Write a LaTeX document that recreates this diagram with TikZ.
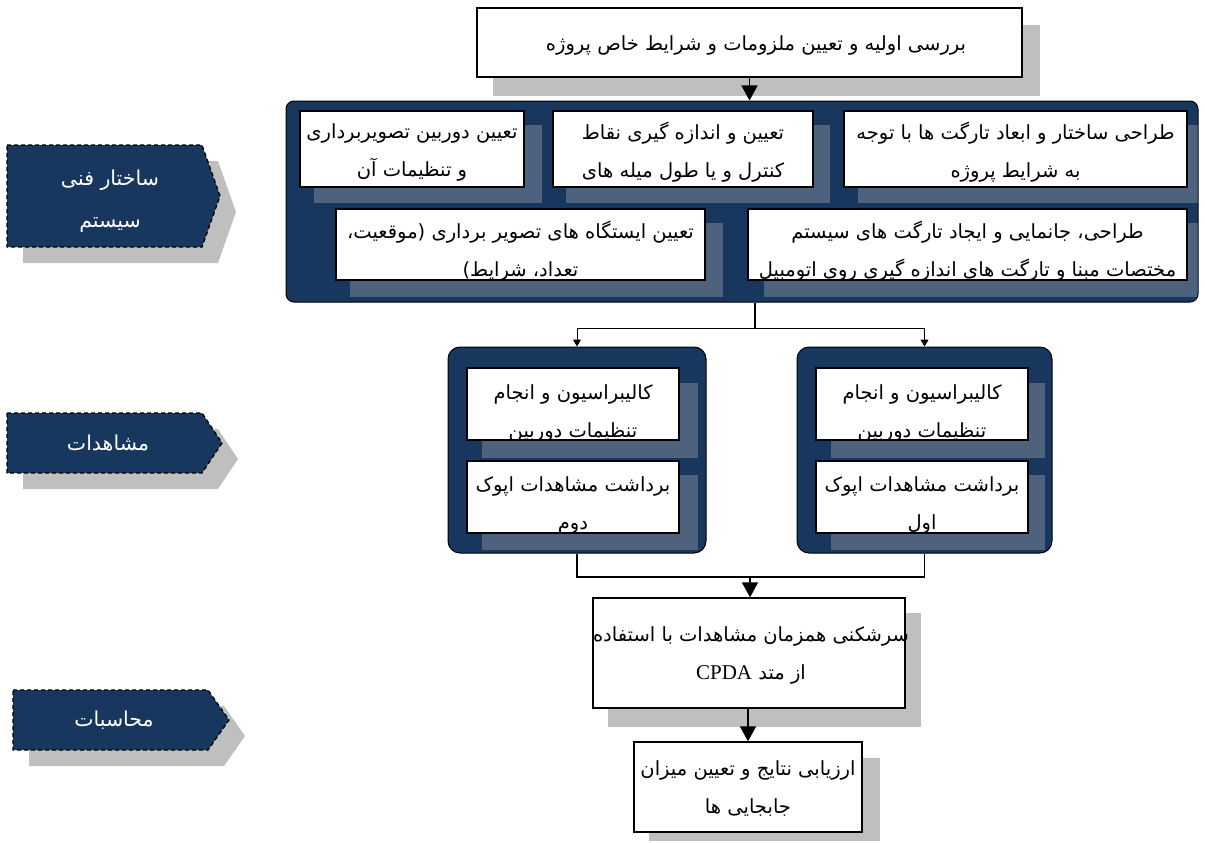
\documentclass[tikz,border=0pt]{standalone}
\usepackage{fontspec}
\usetikzlibrary{arrows.meta,calc}
\TeXXeTstate=1
\newfontfamily\arabicfont[Script=Arabic]{DejaVu Sans}
\newfontfamily\latinserif{Liberation Serif}
\newcommand{\AR}[1]{\beginR #1\endR}
\definecolor{navy}{RGB}{23,55,94}
\definecolor{shadowgray}{RGB}{191,191,191}
\definecolor{innershadow}{RGB}{78,98,125}
\begin{document}
\begin{tikzpicture}[x=1pt,y=-1pt,
  wbox/.style={draw=black,line width=1.3pt,fill=white,inner sep=0pt},
  navybox/.style={draw=black,line width=1pt,fill=navy,inner sep=0pt},
  txt/.style={font=\arabicfont\fontsize{19.5}{38}\selectfont,align=center,inner sep=0pt},
  labtxt/.style={font=\arabicfont\fontsize{20.5}{42}\selectfont,align=center,inner sep=0pt,text=white},
  labshape/.style={draw=black,fill=navy,line width=1.3pt,dash pattern=on 4pt off 3pt},
  bigarr/.style={line width=1.5pt,-{Triangle[length=15pt,width=16pt]}},
  smallarr/.style={line width=1pt,-{Triangle[length=7pt,width=8pt]}},
  conn/.style={line width=1.1pt}]
\path[use as bounding box] (0,0) rectangle (1205,843);

% ---------- outer gray shadows ----------
\fill[shadowgray] (493,25) rectangle (1040,96);
\fill[shadowgray] (608,613) rectangle (921,727);
\fill[shadowgray] (649,758) rectangle (880,841);

% ---------- top box ----------
\node[wbox,minimum width=545pt,minimum height=69pt] (top) at (749.5,42.5) {};
\node[txt] (toptxt) at (756,45) {\AR{بررسی اولیه و تعیین ملزومات و شرایط خاص پروژه}};

% ---------- container ----------
\node[navybox,rounded corners=8pt,minimum width=912pt,minimum height=201pt] (cont) at (742,201.5) {};
\begin{scope}
  \clip[rounded corners=8pt] (286.5,101.5) rectangle (1197.5,301.5);
  \fill[innershadow] (314,125) rectangle (542,203);
  \fill[innershadow] (566,125) rectangle (830,203);
  \fill[innershadow] (858,125) rectangle (1205,203);
  \fill[innershadow] (350,223) rectangle (723,297);
  \fill[innershadow] (764,223) rectangle (1205,297);
\end{scope}
\node[wbox,minimum width=224pt,minimum height=76pt] (tl) at (412,149) {};
\node[txt] (tltxt) at (412,152) {\AR{تعیین دوربین تصویربرداری}\\\AR{و تنظیمات آن}};
\node[wbox,minimum width=260pt,minimum height=76pt] (tm) at (683,149) {};
\node[txt] (tmtxt) at (683,152) {\AR{تعیین و اندازه گیری نقاط}\\\AR{کنترل و یا طول میله های}};
\node[wbox,minimum width=343pt,minimum height=76pt] (tr) at (1015.5,149) {};
\node[txt] (trtxt) at (1015.5,152) {\AR{طراحی ساختار و ابعاد تارگت ها با توجه}\\\AR{به شرایط پروژه}};
\node[wbox,minimum width=369pt,minimum height=71pt] (bl) at (520.5,244.5) {};
\node[wbox,minimum width=439pt,minimum height=71pt] (br) at (967.5,244.5) {};
\begin{scope}
  \clip (337,210) rectangle (704,279);
  \node[txt] (bltxt) at (520.5,251) {\AR{تعیین ایستگاه های تصویر برداری (موقعیت،}\\\AR{تعداد، شرایط)}};
\end{scope}
\begin{scope}
  \clip (749,210) rectangle (1186,279);
  \node[txt] (brtxt) at (967.5,251) {\AR{طراحی، جانمایی و ایجاد تارگت های سیستم}\\\AR{مختصات مبنا و تارگت های اندازه گیری روی اتومبیل}};
\end{scope}

% ---------- middle panels ----------
\node[navybox,rounded corners=12pt,minimum width=258pt,minimum height=206pt] (pl) at (577,450) {};
\node[navybox,rounded corners=12pt,minimum width=255pt,minimum height=206pt] (pr) at (924.5,450) {};
\begin{scope}
  \clip[rounded corners=12pt] (448.5,347.5) rectangle (705.5,552.5);
  \fill[innershadow] (482,383) rectangle (698,458);
  \fill[innershadow] (482,475) rectangle (698,550);
\end{scope}
\begin{scope}
  \clip[rounded corners=12pt] (797.5,347.5) rectangle (1051.5,552.5);
  \fill[innershadow] (831,383) rectangle (1045,458);
  \fill[innershadow] (831,475) rectangle (1045,550);
\end{scope}
\node[wbox,minimum width=212pt,minimum height=72pt] (plt) at (573,404) {};
\node[wbox,minimum width=212pt,minimum height=72pt] (plb) at (573,497) {};
\node[wbox,minimum width=212pt,minimum height=72pt] (prt) at (922,404) {};
\node[wbox,minimum width=212pt,minimum height=72pt] (prb) at (922,497) {};
\begin{scope}
  \clip (468,369) rectangle (678,439);
  \node[txt] (plttxt) at (573,413) {\AR{کالیبراسیون و انجام}\\\AR{تنظیمات دوربین}};
\end{scope}
\begin{scope}
  \clip (468,462) rectangle (678,532);
  \node[txt] (plbtxt) at (573,505) {\AR{برداشت مشاهدات اپوک}\\\AR{دوم}};
\end{scope}
\begin{scope}
  \clip (817,369) rectangle (1027,439);
  \node[txt] (prttxt) at (922,413) {\AR{کالیبراسیون و انجام}\\\AR{تنظیمات دوربین}};
\end{scope}
\begin{scope}
  \clip (817,462) rectangle (1027,532);
  \node[txt] (prbtxt) at (922,505) {\AR{برداشت مشاهدات اپوک}\\\AR{اول}};
\end{scope}

% ---------- bottom boxes ----------
\node[wbox,minimum width=312pt,minimum height=110pt] (cpda) at (749,653) {};
\node[txt] (cpdatxt) at (751,655) {\AR{سرشکنی همزمان مشاهدات با استفاده}\\\AR{از متد {\latinserif\fontsize{21}{38}\selectfont CPDA}}};
\node[wbox,minimum width=228pt,minimum height=90pt] (last) at (748,787) {};
\node[txt] (lasttxt) at (748,789) {\AR{ارزیابی نتایج و تعیین میزان}\\\AR{جابجایی ها}};

% ---------- connectors ----------
\coordinate (split) at (755,328);
\coordinate (join) at (750,577);
\draw[bigarr] (top.south) -- (top.south |- cont.north);
\draw[conn] (split |- cont.south) -- (split);
\draw[smallarr] (split) -| (pl.north);
\draw[smallarr] (split) -| (pr.north);
\draw[conn] (pl.south) |- (join);
\draw[conn] (pr.south) |- (join);
\draw[bigarr] (join) -- (join |- cpda.north);
\draw[bigarr] (cpda.south -| last.north) -- (last.north);

% ---------- side labels ----------
\fill[shadowgray] (23,161) -- (218,161) -- (236,212) -- (218,263) -- (23,263) -- cycle;
\draw[labshape] (7,145) -- (202,145) -- (220,196) -- (202,247) -- (7,247) -- cycle;
\node[labtxt] (lab1) at (110,201) {\AR{ساختار فنی}\\\AR{سیستم}};

\fill[shadowgray] (23,429) -- (218,429) -- (238,459) -- (218,489) -- (23,489) -- cycle;
\draw[labshape] (7,413) -- (202,413) -- (222,443) -- (202,473) -- (7,473) -- cycle;
\node[labtxt] (lab2) at (108,443) {\AR{مشاهدات}};

\fill[shadowgray] (29,706) -- (224,706) -- (245,736) -- (224,766) -- (29,766) -- cycle;
\draw[labshape] (13,690) -- (208,690) -- (229,720) -- (208,750) -- (13,750) -- cycle;
\node[labtxt] (lab3) at (114,720) {\AR{محاسبات}};
\end{tikzpicture}
\end{document}
